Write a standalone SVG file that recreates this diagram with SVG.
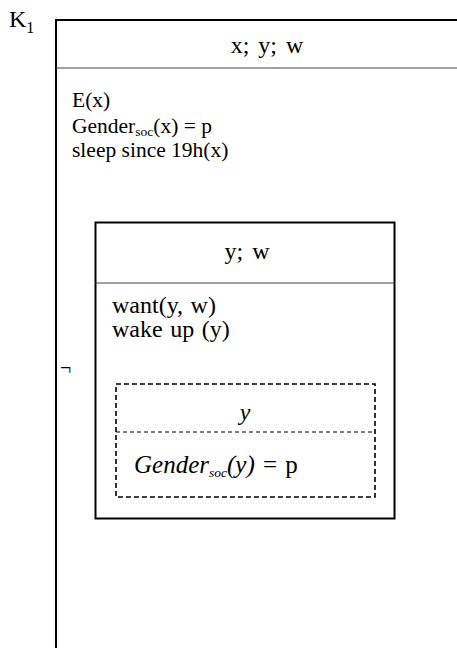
<svg xmlns="http://www.w3.org/2000/svg" width="457" height="648" viewBox="0 0 457 648">
<style>
text{font-family:"Liberation Serif","Times New Roman",serif;font-size:24px;fill:#000;word-spacing:1.5px}
.o{font-size:21.5px;word-spacing:0}
.sub{font-size:13.5px}
.it{font-style:italic}
.box{fill:none;stroke:#000;stroke-width:2}
.sep{stroke:#444;stroke-width:1.2}
.dash{fill:none;stroke:#000;stroke-width:1.6;stroke-dasharray:5 3}
.dsep{stroke:#000;stroke-width:1;stroke-dasharray:4 3}
</style>
<rect width="457" height="648" fill="#fff"/>
<g id="K1">
<text x="9" y="27">K<tspan style="font-size:16px" dy="6">1</tspan></text>
<path class="box" d="M56,649 V20 H458" stroke-width="2.5"/>
<line class="sep" x1="56" y1="68" x2="457" y2="68"/>
<text x="267" y="53" text-anchor="middle" style="word-spacing:3px">x; y; w</text>
<text class="o" x="72" y="107">E(x)</text>
<text class="o" x="72" y="133">Gender<tspan class="sub" dy="3">soc</tspan><tspan dy="-3">(x) = p</tspan></text>
<text class="o" x="72" y="157">sleep since 19h(x)</text>
<text x="60" y="375" style="font-size:20px">¬</text>
</g>
<g id="inner">
<rect class="box" x="95.5" y="222.5" width="299" height="296"/>
<line class="sep" x1="95.5" y1="283" x2="394.5" y2="283"/>
<text x="247" y="259" text-anchor="middle" style="word-spacing:3px">y; w</text>
<text x="112" y="313">want(y, w)</text>
<text x="112" y="337">wake up (y)</text>
</g>
<g id="dashed">
<rect class="dash" x="116" y="384" width="259" height="113"/>
<line class="dsep" x1="116" y1="432" x2="375" y2="432"/>
<text x="245" y="420" text-anchor="middle" class="it">y</text>
<text x="134" y="473" style="font-size:25px;word-spacing:2px"><tspan class="it">Gender</tspan><tspan class="sub it" dy="4">soc</tspan><tspan class="it" dy="-4">(y)</tspan> = p</text>
</g>
<g id="connectors"/>
</svg>
